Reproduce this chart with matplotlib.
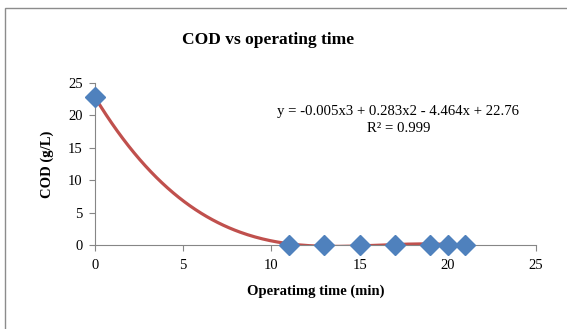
import numpy as np
import matplotlib
matplotlib.use('Agg')
import matplotlib.pyplot as plt
from matplotlib.patches import Rectangle

# data
time_min = [0, 11, 13, 15, 17, 19, 20, 21]
cod_gl = [22.8, 0.0, 0.0, 0.0, 0.0, 0.0, 0.0, 0.0]
eq_text = 'y = -0.005x3 + 0.283x2 - 4.464x + 22.76\nR² = 0.999'

plt.rcParams['font.family'] = ['Liberation Serif', 'DejaVu Serif']

fig = plt.figure(figsize=(5.67, 3.29), dpi=100)
ax = fig.add_axes([0.1676, 0.2553, 0.7777, 0.4924])

# outer chart frame
fig.patches.append(Rectangle((5/567, -0.1), 1.2, 1 - 8/329 + 0.1, transform=fig.transFigure,
                             fill=False, edgecolor='#8c8c8c', linewidth=1.0))

# cubic trend line
coef = np.polyfit(time_min, cod_gl, 3)
xs = np.linspace(0, 21, 200)
ax.plot(xs, np.polyval(coef, xs), color='#c0504d', linewidth=2.3, zorder=2)

ax.plot(time_min, cod_gl, linestyle='none', marker='D', markersize=10.5,
        color='#4f81bd', markeredgecolor='#4f81bd', zorder=3, clip_on=False)

ax.set_xlim(0, 25)
ax.set_ylim(0, 25)
ax.set_xticks(range(0, 26, 5))
ax.set_yticks(range(0, 26, 5))
ax.tick_params(labelsize=10.5, color='#868686', length=4, direction='out')
ax.tick_params(axis='x', pad=6)
ax.tick_params(axis='y', pad=5)

for s in ['top', 'right']:
    ax.spines[s].set_visible(False)
for s in ['left', 'bottom']:
    ax.spines[s].set_color('#868686')

ax.set_xlabel('Operatimg time (min)', fontsize=10.5, fontweight='bold', labelpad=9)
ax.set_ylabel('COD (g/L)', fontsize=10.5, fontweight='bold', labelpad=10)
fig.text(0.472, 0.877, 'COD vs operating time', ha='center', va='center',
         fontsize=12.5, fontweight='bold')

ax.text(17.2, 19.3, eq_text, ha='center', va='center', fontsize=10.6, linespacing=1.45)

fig.savefig('out.png', dpi=100)
